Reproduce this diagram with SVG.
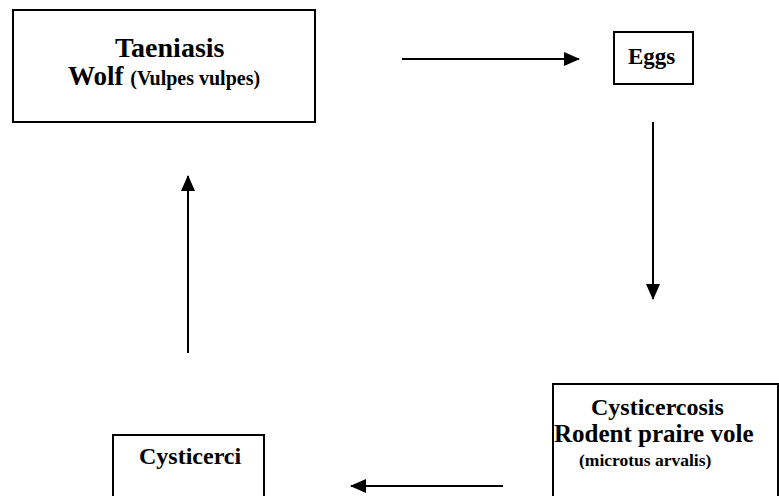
<svg xmlns="http://www.w3.org/2000/svg" width="779" height="496" viewBox="0 0 779 496">
<defs>
<style>
.box{fill:#fff;stroke:#000;stroke-width:2}
.t{font-family:'Liberation Serif','DejaVu Serif',serif;font-weight:700;fill:#000}
.conn{stroke:#000;stroke-width:2;fill:none}
</style>
<marker id="ah" markerUnits="userSpaceOnUse" markerWidth="16" markerHeight="14" refX="15" refY="7" orient="auto">
<path d="M0,0 L16,7 L0,14 Z" fill="#000"/>
</marker>
</defs>
<rect width="779" height="496" fill="#fff"/>
<g id="node-wolf">
<rect class="box" x="13" y="10" width="302" height="112"/>
<text class="t" x="115" y="57" font-size="28">Taeniasis</text>
<text class="t" x="68" y="85" font-size="27">Wolf <tspan font-size="20">(Vulpes vulpes)</tspan></text>
</g>
<g id="node-eggs">
<rect class="box" x="614" y="32" width="79" height="52"/>
<text class="t" x="628" y="64" font-size="23">Eggs</text>
</g>
<g id="node-rodent">
<rect class="box" x="553" y="384" width="225" height="120"/>
<text class="t" x="591" y="415" font-size="24">Cysticercosis</text>
<text class="t" x="554" y="442" font-size="25">Rodent praire vole</text>
<text class="t" x="579" y="466" font-size="17.5">(microtus arvalis)</text>
</g>
<g id="node-cysticerci">
<rect class="box" x="113" y="435" width="151" height="70"/>
<text class="t" x="139" y="464" font-size="24">Cysticerci</text>
</g>
<g id="connectors">
<line class="conn" x1="402" y1="59" x2="579" y2="59" marker-end="url(#ah)"/>
<line class="conn" x1="653" y1="122" x2="653" y2="299" marker-end="url(#ah)"/>
<line class="conn" x1="503" y1="486" x2="351" y2="486" marker-end="url(#ah)"/>
<line class="conn" x1="188" y1="353" x2="188" y2="176" marker-end="url(#ah)"/>
</g>
</svg>
